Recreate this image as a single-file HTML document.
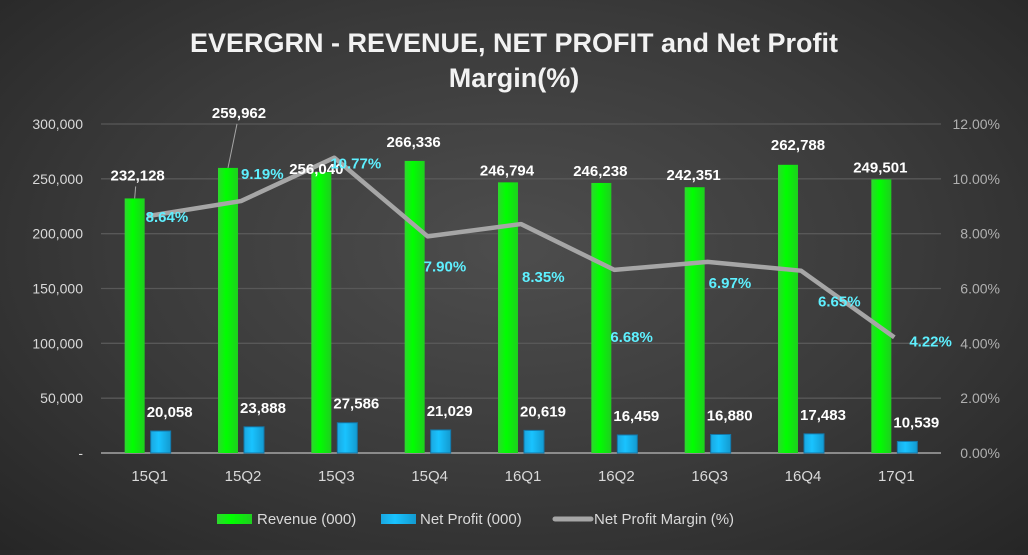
<!DOCTYPE html>
<html><head><meta charset="utf-8"><style>
html,body{margin:0;padding:0}
body{width:1028px;height:550px;overflow:hidden;background:radial-gradient(ellipse at 50% 45%,#4d4d4d 0%,#3a3a3a 55%,#262626 100%);font-family:"Liberation Sans",sans-serif}
svg text{font-family:"Liberation Sans",sans-serif}
</style></head><body>
<svg id="c" width="1028" height="550">
<defs>
<linearGradient id="gG" x1="0" x2="1"><stop offset="0" stop-color="#2fd62f"/><stop offset="0.4" stop-color="#00ff00"/><stop offset="1" stop-color="#1fcf1f"/></linearGradient>
<linearGradient id="gB" x1="0" x2="1"><stop offset="0" stop-color="#1aa7e0"/><stop offset="0.4" stop-color="#19c3ff"/><stop offset="1" stop-color="#139ad0"/></linearGradient>
</defs>
<text x="514" y="52" text-anchor="middle" fill="#f2f2f2" font-size="27" font-weight="bold">EVERGRN - REVENUE, NET PROFIT and Net Profit</text>
<text x="514" y="87" text-anchor="middle" fill="#f2f2f2" font-size="27" font-weight="bold">Margin(%)</text>
<g id="grid"></g><g id="marks"></g><g id="labels"></g>
<g>
<rect x="217" y="514" width="35" height="10" fill="url(#gG)"/>
<text x="257" y="524" fill="#d9d9d9" font-size="15">Revenue (000)</text>
<rect x="381" y="514" width="35" height="10" fill="url(#gB)"/>
<text x="420" y="524" fill="#d9d9d9" font-size="15">Net Profit  (000)</text>
<line x1="555" y1="519" x2="591" y2="519" stroke="#a6a6a6" stroke-width="5" stroke-linecap="round"/>
<text x="594" y="524" fill="#d9d9d9" font-size="15">Net Profit Margin (%)</text>
</g>
</svg>
<script>
const categories=["15Q1","15Q2","15Q3","15Q4","16Q1","16Q2","16Q3","16Q4","17Q1"];
const revenue=[232128,259962,256040,266336,246794,246238,242351,262788,249501];
const netProfit=[20058,23888,27586,21029,20619,16459,16880,17483,10539];
const margin=[8.64,9.19,10.77,7.90,8.35,6.68,6.97,6.65,4.22];
const leftTicks=[0,50000,100000,150000,200000,250000,300000];
const rightTicks=[0,2,4,6,8,10,12];
const revLabelDx=[-10,-2,-18,-14,-14,-14,-14,-3,-14];
const revLabelDy=[-24,-56,-4,-20,-13,-13,-13,-21,-13];
const marDx=[-2,0,-4,-4,1,-4,1,17,15];
const marDy=[0,-28,5,29,52,66,20,30,3];
const NS="http://www.w3.org/2000/svg";
const X0=101,X1=941,Y0=453,Y1=124;
const bw=(X1-X0)/categories.length;
const yL=v=>Y0-(v/300000)*(Y0-Y1);
const yR=v=>Y0-(v/12)*(Y0-Y1);
const xc=i=>X0+bw*(i+0.5);
function mk(tag,attrs,parent,txt){const e=document.createElementNS(NS,tag);for(const k in attrs)e.setAttribute(k,attrs[k]);if(txt!==undefined)e.textContent=txt;document.getElementById(parent).appendChild(e);return e;}
const fmt=v=>v.toLocaleString("en-US");
leftTicks.forEach(t=>{
  if(t>0){const g=mk("line",{x1:X0,x2:X1,y1:yL(t),y2:yL(t),stroke:"#585858","stroke-width":1.3},"grid");
  
  }
  const l=mk("text",{x:83,y:yL(t)+5,"text-anchor":"end",fill:"#d9d9d9","font-size":14},"grid",t===0?"-":fmt(t));
  
  
});
rightTicks.forEach(t=>{
  const l=mk("text",{x:1000,y:yR(t)+5,"text-anchor":"end",fill:"#b0b0b0","font-size":14},"grid",t.toFixed(2)+"%");
  
  
});
const ax=mk("line",{x1:X0,x2:X1,y1:Y0,y2:Y0,stroke:"#a6a6a6","stroke-width":1.5},"grid");


categories.forEach((c,i)=>{
  const l=mk("text",{x:xc(i)+2,y:481,"text-anchor":"middle",fill:"#d9d9d9","font-size":15},"grid",c);
  
  
  const r=mk("rect",{x:xc(i)-23,y:yL(revenue[i]),width:20,height:Y0-yL(revenue[i]),fill:"url(#gG)"},"marks");
  
  
  const b=mk("rect",{x:xc(i)+3,y:yL(netProfit[i]),width:20,height:Y0-yL(netProfit[i]),fill:"url(#gB)",stroke:"#1477a8","stroke-width":1},"marks");
  
  
  if(revLabelDy[i]<-22){
    const ld=mk("line",{x1:xc(i)-13,y1:yL(revenue[i]),x2:xc(i)+revLabelDx[i]-2,y2:yL(revenue[i])+revLabelDy[i]+12,stroke:"#a6a6a6","stroke-width":1},"labels");
    
    
  }
  const rl=mk("text",{x:xc(i)+revLabelDx[i],y:yL(revenue[i])+revLabelDy[i]+6,"text-anchor":"middle",fill:"#ffffff","font-size":15,"font-weight":"bold"},"labels",fmt(revenue[i]));
  
  
  const nl=mk("text",{x:xc(i)+22,y:yL(netProfit[i])-14,"text-anchor":"middle",fill:"#ffffff","font-size":15,"font-weight":"bold"},"labels",fmt(netProfit[i]));
  
  
  const ml=mk("text",{x:xc(i)+marDx[i],y:yR(margin[i])+marDy[i]+6,fill:"#5ef0ff","font-size":15,"font-weight":"bold"},"labels",margin[i].toFixed(2)+"%");
  
  
});
const pts=margin.map((m,i)=>xc(i)+","+yR(m)).join(" ");
const pl=mk("polyline",{points:pts,fill:"none",stroke:"#a6a6a6","stroke-width":4.5,"stroke-linejoin":"round"},"marks");


</script>
</body></html>
